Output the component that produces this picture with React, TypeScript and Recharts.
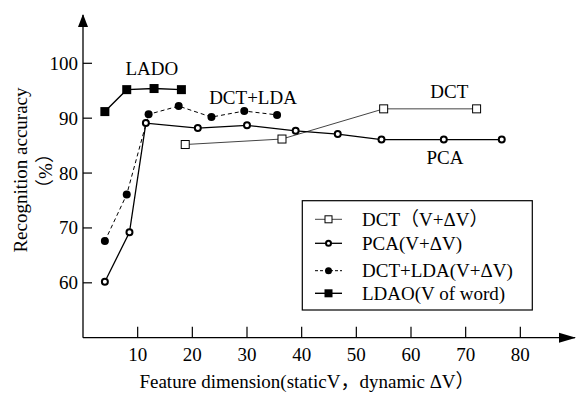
import React from 'react';
import { LineChart, Line, XAxis, YAxis, ReferenceDot } from 'recharts';

// values
const dctX = [18.7, 36.4, 55, 72];
const dctY = [85.2, 86.2, 91.7, 91.7];
const pcaX = [4, 8.5, 11.5, 21, 30, 38.9, 46.6, 54.6, 66, 76.6];
const pcaY = [60.2, 69.2, 89.1, 88.2, 88.7, 87.7, 87.1, 86.1, 86.1, 86.1];
const dctLdaX = [4, 8, 12, 17.5, 23.5, 29.5, 35.5];
const dctLdaY = [67.6, 76.1, 90.7, 92.2, 90.2, 91.3, 90.6];
const ladoX = [4, 8, 13, 18];
const ladoY = [91.2, 95.2, 95.4, 95.2];

const xTicks = [10, 20, 30, 40, 50, 60, 70, 80];
const yTicks = [60, 70, 80, 90, 100];

const FONT = 'Liberation Serif, Noto Sans CJK SC, serif';

const toPoints = (xs: number[], ys: number[]) => xs.map((x, i) => ({ x, y: ys[i] }));

type Marker = 'openSquare' | 'openCircle' | 'filledCircle' | 'filledSquare';

const drawMarker = (kind: Marker, cx: number, cy: number, key?: string | number, small = false) => {
  switch (kind) {
    case 'openSquare': {
      const s = small ? 7 : 8;
      return <rect key={key} x={cx - s / 2} y={cy - s / 2} width={s} height={s} fill="#fff" stroke="#000" strokeWidth={1} />;
    }
    case 'openCircle':
      return <circle key={key} cx={cx} cy={cy} r={small ? 2.5 : 3} fill="#fff" stroke="#000" strokeWidth={2} />;
    case 'filledCircle':
      return <circle key={key} cx={cx} cy={cy} r={small ? 3.5 : 4} fill="#000" stroke="none" />;
    default: {
      const s = small ? 8 : 9;
      return <rect key={key} x={cx - s / 2} y={cy - s / 2} width={s} height={s} fill="#000" />;
    }
  }
};

const series = [
  { key: 'dct', name: 'DCT（V+ΔV）', data: toPoints(dctX, dctY), marker: 'openSquare' as Marker, stroke: '#444', width: 1, dash: undefined },
  { key: 'pca', name: 'PCA(V+ΔV)', data: toPoints(pcaX, pcaY), marker: 'openCircle' as Marker, stroke: '#000', width: 1.3, dash: undefined },
  { key: 'dctlda', name: 'DCT+LDA(V+ΔV)', data: toPoints(dctLdaX, dctLdaY), marker: 'filledCircle' as Marker, stroke: '#000', width: 1, dash: '4 3' },
  { key: 'lado', name: 'LDAO(V of word)', data: toPoints(ladoX, ladoY), marker: 'filledSquare' as Marker, stroke: '#000', width: 1.4, dash: undefined },
];

const XTick = (props: any) => {
  const { x, y, payload } = props;
  return (
    <g>
      <line x1={x} y1={y} x2={x} y2={y - 11} stroke="#000" strokeWidth={1.2} />
      <text x={x} y={y + 23} textAnchor="middle" fontSize={19} fontFamily={FONT} fill="#000">
        {payload.value}
      </text>
    </g>
  );
};

const YTick = (props: any) => {
  const { x, y, payload } = props;
  return (
    <g>
      <line x1={x} y1={y} x2={x + 9} y2={y} stroke="#000" strokeWidth={1.2} />
      <text x={x - 5} y={y + 6.5} textAnchor="end" fontSize={19} fontFamily={FONT} fill="#000">
        {payload.value}
      </text>
    </g>
  );
};

const note = (text: string) => (p: any) => (
  <text x={p.cx} y={p.cy} textAnchor="middle" dominantBaseline="central" fontSize={19} fontFamily={FONT} fill="#000">
    {text}
  </text>
);

const rowY = [219.3, 243.3, 270.7, 293.3];

export default function App() {
  return (
    <div style={{ position: 'absolute', left: 0, top: 0, width: 581, height: 394, background: '#fff' }}>
      <LineChart width={581} height={394} margin={{ top: 15, right: 6, left: 82, bottom: 55.3 }}>
        <XAxis
          type="number"
          dataKey="x"
          domain={[0, 90]}
          ticks={xTicks}
          allowDataOverflow
          height={1}
          tickSize={0}
          tickMargin={0}
          tickLine={false}
          axisLine={{ stroke: '#000', strokeWidth: 1.3 }}
          tick={<XTick />}
        />
        <YAxis
          type="number"
          dataKey="y"
          domain={[50, 108.8]}
          ticks={yTicks}
          allowDataOverflow
          width={1}
          tickSize={0}
          tickMargin={0}
          tickLine={false}
          axisLine={{ stroke: '#000', strokeWidth: 1.3 }}
          tick={<YTick />}
        />
        {series.map((s) => (
          <Line
            key={s.key}
            data={s.data}
            dataKey="y"
            name={s.name}
            type="linear"
            stroke={s.stroke}
            strokeWidth={s.width}
            strokeDasharray={s.dash}
            dot={(p: any) => drawMarker(s.marker, p.cx, p.cy, `${s.key}-${p.index}`)}
            activeDot={false}
            isAnimationActive={false}
          />
        ))}
        <ReferenceDot x={12.6} y={99} r={0} ifOverflow="visible" shape={note('LADO')} />
        <ReferenceDot x={31.1} y={93.8} r={0} ifOverflow="visible" shape={note('DCT+LDA')} />
        <ReferenceDot x={67} y={94.9} r={0} ifOverflow="visible" shape={note('DCT')} />
        <ReferenceDot x={66.2} y={82.9} r={0} ifOverflow="visible" shape={note('PCA')} />
      </LineChart>
      <svg width={581} height={394} style={{ position: 'absolute', left: 0, top: 0, pointerEvents: 'none' }}>
        {/* axis arrow heads */}
        <polygon points="83,14 78,27 88,27" fill="#000" />
        <polygon points="576,337.7 559,332.7 559,342.7" fill="#000" />
        {/* axis titles */}
        <text x={307} y={388} textAnchor="middle" fontSize={19} fontFamily={FONT} fill="#000">
          Feature dimension(staticV，dynamic ΔV）
        </text>
        <text transform="translate(27,170) rotate(-90)" textAnchor="middle" fontSize={19} fontFamily={FONT} fill="#000">
          Recognition accuracy
        </text>
        <text transform="translate(52,171) rotate(-90)" textAnchor="middle" fontSize={19} fontFamily={FONT} fill="#000">
          （%）
        </text>
        {/* legend */}
        <rect x={302.3} y={200.7} width={230} height={109.3} fill="#fff" stroke="#000" strokeWidth={1.2} />
        {series.map((s, i) => (
          <g key={s.key}>
            <line x1={315} y1={rowY[i]} x2={342} y2={rowY[i]} stroke={s.stroke} strokeWidth={s.width} strokeDasharray={s.dash ? '3 2' : undefined} />
            {drawMarker(s.marker, 328.5, rowY[i], undefined, true)}
            <text x={362} y={rowY[i] + 6.5} fontSize={19} fontFamily={FONT} fill="#000">
              {s.name}
            </text>
          </g>
        ))}
      </svg>
    </div>
  );
}
